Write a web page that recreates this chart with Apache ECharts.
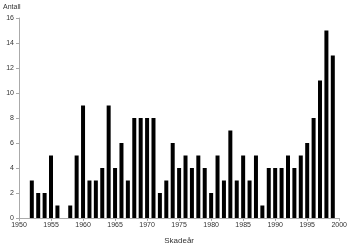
<!DOCTYPE html>
<html><head><meta charset="utf-8">
<script src="https://cdn.jsdelivr.net/npm/echarts@6/dist/echarts.min.js"></script>
<style>html,body{margin:0;padding:0;background:#fff}#c{width:350px;height:250px}</style>
</head><body><div id="c"></div>
<script>
const years = [1952,1953,1954,1955,1956,1957,1958,1959,1960,1961,1962,1963,1964,1965,1966,1967,1968,1969,1970,1971,1972,1973,1974,1975,1976,1977,1978,1979,1980,1981,1982,1983,1984,1985,1986,1987,1988,1989,1990,1991,1992,1993,1994,1995,1996,1997,1998,1999];
const counts = [3,2,2,5,1,0,1,5,9,3,3,4,9,4,6,3,8,8,8,8,2,3,6,4,5,4,5,4,2,5,3,7,3,5,3,5,1,4,4,4,5,4,5,6,8,11,15,13];
const yTitle = 'Antall';
const xTitle = 'Skadeår';
const chart = echarts.init(document.getElementById('c'));
const font = 'Liberation Sans';
chart.setOption({
  animation: false,
  grid: {left: 15, right: 8, top: 18, bottom: 29},
  xAxis: {
    type: 'value', min: 1950, max: 2000, interval: 5,
    name: xTitle, nameLocation: 'middle', nameGap: 19,
    nameTextStyle: {fontFamily: font, fontSize: 8, color: '#333'},
    axisLine: {lineStyle: {color: '#aaa', width: 1}},
    axisTick: {show: true, length: 3, lineStyle: {color: '#aaa'}},
    axisLabel: {fontFamily: font, fontSize: 7, color: '#333', margin: 4, formatter: v => String(v)},
    splitLine: {show: false}
  },
  yAxis: {
    type: 'value', min: 0, max: 16, interval: 2,
    name: yTitle, nameLocation: 'end', nameGap: 7,
    nameTextStyle: {fontFamily: font, fontSize: 7, color: '#333', align: 'left', padding: [0,0,0,-16]},
    axisLine: {show: true, lineStyle: {color: '#aaa', width: 1}},
    axisTick: {show: true, length: 3, lineStyle: {color: '#aaa'}},
    axisLabel: {fontFamily: font, fontSize: 7, color: '#333', margin: 5},
    splitLine: {show: false}
  },
  series: [{
    type: 'bar', barWidth: 4,
    itemStyle: {color: '#000'},
    data: years.map((y, i) => [y, counts[i]])
  }]
});
</script></body></html>
